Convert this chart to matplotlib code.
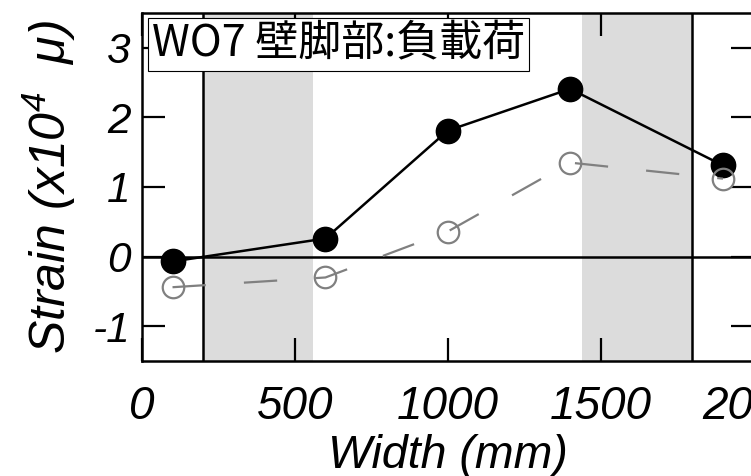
import matplotlib
matplotlib.use('Agg')
import matplotlib.pyplot as plt

# data
width_mm = [100, 600, 1000, 1400, 1900]
strain_solid = [-0.07, 0.26, 1.81, 2.41, 1.31]
strain_open = [-0.44, -0.30, 0.36, 1.35, 1.12]
shade_spans = [(200, 560), (1440, 1800)]
wall_lines = [200, 1800]
xticks = [0, 500, 1000, 1500, 2000]
yticks = [-1, 0, 1, 2, 3]
title = 'WO7 壁脚部:負載荷'

plt.rcParams['font.family'] = ['Liberation Sans', 'DejaVu Sans']
plt.rcParams['mathtext.fontset'] = 'custom'
plt.rcParams['mathtext.rm'] = 'Liberation Sans:italic'
plt.rcParams['mathtext.it'] = 'Liberation Sans:italic'
plt.rcParams['lines.scale_dashes'] = False
plt.rcParams['axes.unicode_minus'] = False

fig = plt.figure(figsize=(7.51, 4.76), dpi=100)
ax = fig.add_axes([0.189, 0.2416, 0.8144, 0.7311])

for a, b in shade_spans:
    ax.axvspan(a, b, color='#dcdcdc', lw=0, zorder=0)
for x in wall_lines:
    ax.axvline(x, color='black', lw=1.8, zorder=1)
ax.axhline(0, color='black', lw=1.8, zorder=1)

ax.plot(width_mm, strain_solid, color='black', lw=1.8, marker='o',
        ms=17.5, mfc='black', mec='black', zorder=3)
ax.plot(width_mm, strain_open, color='#808080', lw=1.6, dashes=(24, 27.5),
        marker='o', ms=15.5, mfc='none', mec='#808080', mew=1.6, zorder=4)

ax.set_xlim(0, 2000)
ax.set_ylim(-1.5, 3.5)
ax.set_xticks(xticks)
ax.set_yticks(yticks)
ax.tick_params(direction='in', length=16.5, width=1.6, top=True, right=True)
ax.tick_params(axis='x', pad=17.5)
ax.tick_params(axis='y', pad=8)
for lab in ax.get_xticklabels():
    lab.set_fontsize(33)
    lab.set_fontstyle('italic')
for lab in ax.get_yticklabels():
    lab.set_fontsize(30.5)
    lab.set_fontstyle('italic')
for s in ax.spines.values():
    s.set_linewidth(1.8)

ax.set_xlabel('Width (mm)', fontsize=33.5, fontstyle='italic')
ax.xaxis.set_label_coords(0.5, -0.21, transform=ax.transAxes)
ax.xaxis.label.set_va('top')
ax.set_ylabel('Strain (x10$^{4}$  μ)', fontsize=36, fontstyle='italic')
ax.yaxis.set_label_coords(-0.104, 0.5)

ax.text(0.0165, 0.972, title, transform=ax.transAxes, fontsize=31,
        family=['Noto Sans CJK JP', 'DejaVu Sans'], va='top', ha='left',
        zorder=10,
        bbox=dict(boxstyle='square,pad=0.1', fc='white', ec='black', lw=0.8))

fig.savefig('out.png', dpi=100)
